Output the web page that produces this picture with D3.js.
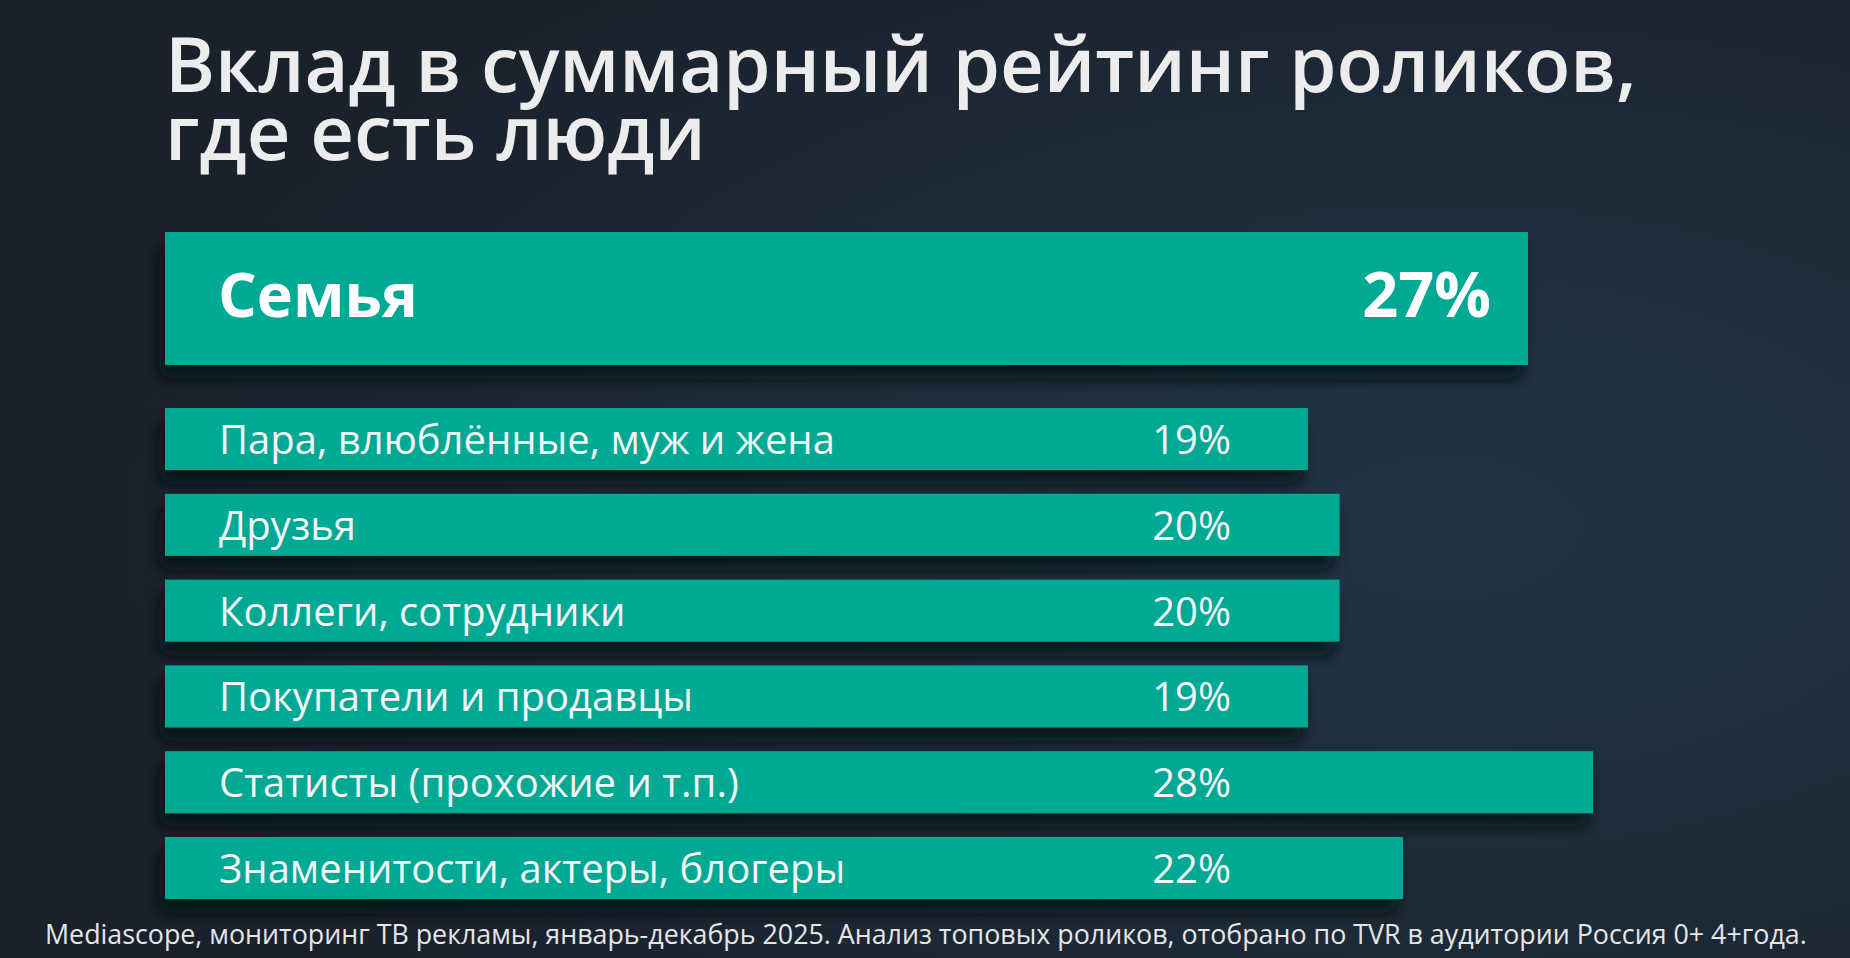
<!DOCTYPE html>
<html>
<head>
<meta charset="utf-8">
<script src="https://cdn.jsdelivr.net/npm/d3@7"></script>
<style>
  body { margin: 0; background: #1b2430; overflow: hidden; }
  svg { display: block; }
</style>
</head>
<body>
<div id="chart"></div>
<script>
// Data

const titleLines = ["Вклад в суммарный рейтинг роликов,", "где есть люди"];
const headCategory = "Семья";
const headValue = 27;
const categories = [
  "Пара, влюблённые, муж и жена",
  "Друзья",
  "Коллеги, сотрудники",
  "Покупатели и продавцы",
  "Статисты (прохожие и т.п.)",
  "Знаменитости, актеры, блогеры",
];
const values = [19, 20, 20, 19, 28, 22];
const source =
  "Mediascope, мониторинг ТВ рекламы, январь-декабрь 2025. Анализ топовых роликов, отобрано по TVR в аудитории Россия 0+ 4+года.";

// Layout

const width = 1850;
const height = 958;
const left = 165;
const teal = "#02a994";
const font = "'Open Sans', 'Noto Sans', sans-serif";

const svg = d3
  .select("#chart")
  .append("svg")
  .attr("width", width)
  .attr("height", height);

const defs = svg.append("defs");

const bg = defs
  .append("radialGradient")
  .attr("id", "bg")
  .attr("cx", "0.78")
  .attr("cy", "0.55")
  .attr("r", "0.75");
bg.append("stop").attr("offset", "0%").attr("stop-color", "#213545");
bg.append("stop").attr("offset", "100%").attr("stop-color", "#19212c");

const shadow = defs
  .append("filter")
  .attr("id", "shadow")
  .attr("x", "-5%")
  .attr("y", "-20%")
  .attr("width", "110%")
  .attr("height", "160%");
shadow
  .append("feDropShadow")
  .attr("dx", -6)
  .attr("dy", 14)
  .attr("stdDeviation", 8)
  .attr("flood-color", "#05080c")
  .attr("flood-opacity", 0.75);

svg.append("rect").attr("width", width).attr("height", height).attr("fill", "url(#bg)");

// Title (one text, two lines)

svg
  .append("text")
  .attr("fill", "#ececec")
  .style("font-family", font)
  .style("font-weight", 600)
  .style("font-size", "76px")
  .selectAll("tspan")
  .data(titleLines)
  .enter()
  .append("tspan")
  .attr("x", left)
  .attr("y", (d, i) => 92 + i * 68)
  .text((d) => d);

// Scales: bars start at the left edge, the part past the label area is proportional

const xScale = d3.scaleLinear().domain([0, 28]).range([706, 1593]);
const headScale = d3.scaleLinear().domain([0, headValue]).range([706, 1528]);

const yScale = d3
  .scaleBand()
  .domain(categories)
  .range([408, 899])
  .paddingInner(0.277);

// Header bar

const head = svg.append("g");

head
  .append("rect")
  .attr("x", left)
  .attr("y", 232)
  .attr("width", headScale(headValue) - left)
  .attr("height", 133)
  .attr("fill", teal)
  .attr("filter", "url(#shadow)");

head
  .append("text")
  .attr("x", 218)
  .attr("y", 317)
  .attr("fill", "#ffffff")
  .style("font-family", font)
  .style("font-weight", 700)
  .style("font-size", "61px")
  .text(headCategory);

head
  .append("text")
  .attr("x", 1491)
  .attr("y", 317)
  .attr("text-anchor", "end")
  .attr("fill", "#ffffff")
  .style("font-family", font)
  .style("font-weight", 700)
  .style("font-size", "63px")
  .text(headValue + "%");

// Rows

const rows = svg
  .append("g")
  .selectAll("g")
  .data(categories)
  .enter()
  .append("g")
  .attr("transform", (d) => `translate(0, ${yScale(d)})`);

rows
  .append("rect")
  .attr("x", left)
  .attr("y", 0)
  .attr("width", (d, i) => xScale(values[i]) - left)
  .attr("height", yScale.bandwidth())
  .attr("fill", teal)
  .attr("filter", "url(#shadow)");

rows
  .append("text")
  .attr("x", 219)
  .attr("y", yScale.bandwidth() / 2 + 15)
  .attr("fill", "#f4f4f4")
  .style("font-family", font)
  .style("font-size", "40px")
  .text((d) => d);

rows
  .append("text")
  .attr("x", 1231)
  .attr("y", yScale.bandwidth() / 2 + 15)
  .attr("text-anchor", "end")
  .attr("fill", "#f4f4f4")
  .style("font-family", font)
  .style("font-size", "40px")
  .text((d, i) => values[i] + "%");

// Source

svg
  .append("text")
  .attr("x", 45)
  .attr("y", 944)
  .attr("fill", "#e6e6e6")
  .style("font-family", font)
  .style("font-size", "26.8px")
  .text(source);
</script>
</body>
</html>
